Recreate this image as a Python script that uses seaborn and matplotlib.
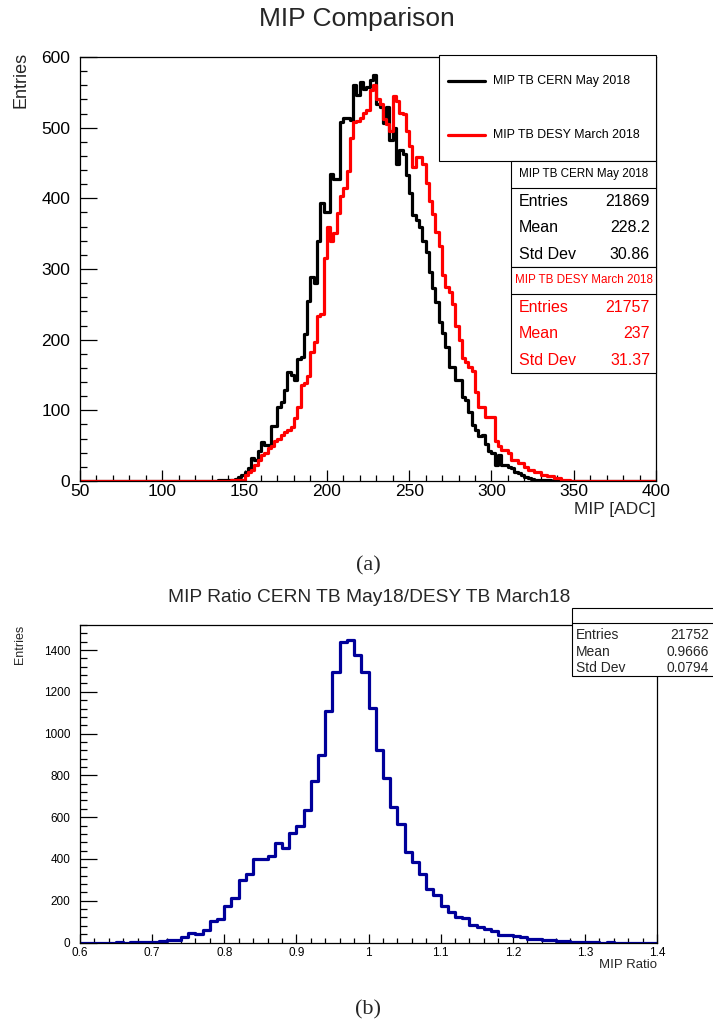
import numpy as np
import pandas as pd
import matplotlib
matplotlib.use("Agg")
import matplotlib.pyplot as plt
import seaborn as sns
from matplotlib.patches import Rectangle
from matplotlib.lines import Line2D
from matplotlib.ticker import MultipleLocator, FuncFormatter

sns.set_theme(style="ticks")
plt.rcParams["font.family"] = ["Liberation Sans", "DejaVu Sans"]

# ---------------------------------------------------------------- data
# Top panel: MIP spectra, bin width 2 ADC over 50..400; listed bins start at 130
mip_range = (50, 400)
mip_bin_width = 2
mip_list_start = 130
cern_counts = [
    0, 0, 1, 1, 1, 2, 2, 3, 6, 8,
    13, 19, 32, 30, 42, 55, 51, 51, 78, 78,
    105, 112, 129, 154, 150, 143, 173, 175, 208, 255,
    288, 280, 339, 393, 381, 381, 435, 428, 428, 508,
    514, 514, 511, 560, 546, 564, 555, 558, 567, 574,
    533, 529, 507, 529, 482, 499, 448, 468, 463, 433,
    407, 376, 370, 360, 340, 324, 296, 273, 254, 225,
    209, 190, 162, 162, 143, 143, 119, 115, 98, 79,
    72, 63, 65, 53, 42, 39, 23, 37, 23, 23,
    20, 18, 13, 11, 8, 6, 4, 3, 2, 2,
    1, 1, 1, 0, 1, 0, 0, 0, 0, 0,
]
desy_counts = [
    0, 0, 0, 0, 0, 0, 1, 1, 1, 2,
    8, 13, 16, 23, 30, 37, 39, 46, 49, 56,
    60, 65, 70, 72, 77, 89, 105, 136, 138, 148,
    183, 197, 233, 237, 316, 360, 339, 351, 379, 403,
    415, 438, 486, 508, 509, 514, 521, 525, 554, 561,
    540, 533, 512, 505, 495, 545, 538, 521, 519, 495,
    474, 445, 459, 459, 448, 422, 396, 378, 352, 333,
    291, 275, 268, 250, 220, 200, 174, 169, 162, 155,
    126, 105, 105, 91, 91, 91, 56, 49, 44, 44,
    39, 30, 30, 25, 25, 20, 16, 16, 13, 13,
    8, 8, 7, 7, 4, 4, 2, 1, 1, 0,
]
cern_label = "MIP TB CERN May 2018"
desy_label = "MIP TB DESY March 2018"
stat_names = ["Entries", "Mean", "Std Dev"]
cern_stat_values = ["21869", "228.2", "30.86"]
desy_stat_values = ["21757", "237", "31.37"]
mip_xticks = [50, 100, 150, 200, 250, 300, 350, 400]
mip_yticks = [0, 100, 200, 300, 400, 500, 600]

# Bottom panel: ratio, bin width 0.01 over 0.6..1.4
ratio_range = (0.6, 1.4)
ratio_counts = [
    0, 0, 0, 0, 0, 1, 0, 1, 1, 1,
    3, 9, 10, 11, 28, 47, 42, 58, 103, 111,
    173, 211, 297, 329, 401, 401, 413, 477, 453, 525,
    557, 636, 775, 896, 1106, 1297, 1438, 1448, 1377, 1297,
    1125, 923, 787, 647, 565, 434, 386, 326, 254, 227,
    177, 148, 121, 118, 84, 73, 64, 54, 38, 38,
    33, 25, 16, 16, 10, 10, 5, 5, 2, 2,
    1, 1, 0, 1, 0, 0, 0, 0, 0, 0,
]
ratio_stat_values = ["21752", "0.9666", "0.0794"]
ratio_xticks = [0.6, 0.7, 0.8, 0.9, 1.0, 1.1, 1.2, 1.3, 1.4]
ratio_yticks = [0, 200, 400, 600, 800, 1000, 1200, 1400]

# ---------------------------------------------------------------- figure
W, H = 713, 1026
fig = plt.figure(figsize=(W / 100, H / 100), dpi=100)
fig.patch.set_facecolor("white")


def fx(px):
    return px / W


def fy(py):
    return 1 - py / H


def box_axes(l, t, r, b):
    return fig.add_axes([fx(l), fy(b), fx(r) - fx(l), fy(t) - fy(b)])


ax1 = box_axes(80, 57, 656, 481)
ax2 = box_axes(80, 625, 657, 942.5)

# ---- top histograms
n_mip = int(round((mip_range[1] - mip_range[0]) / mip_bin_width))
mip_edges = mip_range[0] + mip_bin_width * np.arange(n_mip + 1)
mip_centers = 0.5 * (mip_edges[:-1] + mip_edges[1:])
i0 = int(round((mip_list_start - mip_range[0]) / mip_bin_width))
cern_full = np.zeros(n_mip)
cern_full[i0:i0 + len(cern_counts)] = cern_counts
desy_full = np.zeros(n_mip)
desy_full[i0:i0 + len(desy_counts)] = desy_counts
df_cern = pd.DataFrame({"mip": mip_centers, "n": cern_full})
df_desy = pd.DataFrame({"mip": mip_centers, "n": desy_full})

sns.histplot(data=df_cern, x="mip", weights="n", bins=n_mip, binrange=mip_range,
             element="step", fill=False, color="black", linewidth=2.3, ax=ax1)
sns.histplot(data=df_desy, x="mip", weights="n", bins=n_mip, binrange=mip_range,
             element="step", fill=False, color="#ff0000", linewidth=2.3, ax=ax1)

# ---- bottom histogram
n_ratio = len(ratio_counts)
ratio_edges = np.linspace(ratio_range[0], ratio_range[1], n_ratio + 1)
ratio_centers = 0.5 * (ratio_edges[:-1] + ratio_edges[1:])
df_ratio = pd.DataFrame({"ratio": ratio_centers, "n": np.array(ratio_counts, float)})
sns.histplot(data=df_ratio, x="ratio", weights="n", bins=n_ratio, binrange=ratio_range,
             element="step", fill=False, color="#00009a", linewidth=2.3, ax=ax2)

# ---- axes styling
fmt = FuncFormatter(lambda v, p: "%g" % round(v, 6))
for ax, xr, yr, xt, yt, xminor, yminor, lsz, xmaj, ymaj, xpad in (
    (ax1, mip_range, (0, 600), mip_xticks, mip_yticks, 10, 20, 12.5, 8, 12, 2.5),
    (ax2, ratio_range, (0, 1520), ratio_xticks, ratio_yticks, 0.02, 40, 8.5, 6.5, 12, 3),
):
    ax.set_xlim(*xr)
    ax.set_ylim(*yr)
    ax.set_xticks(xt)
    ax.set_yticks(yt)
    ax.xaxis.set_minor_locator(MultipleLocator(xminor))
    ax.yaxis.set_minor_locator(MultipleLocator(yminor))
    ax.xaxis.set_major_formatter(fmt)
    ax.yaxis.set_major_formatter(fmt)
    ax.tick_params(axis="both", which="both", direction="in", top=False, right=False,
                   colors="black", width=0.9, labelsize=lsz)
    ax.tick_params(axis="x", which="major", length=xmaj, pad=xpad)
    ax.tick_params(axis="x", which="minor", length=xmaj * 0.5)
    ax.tick_params(axis="y", which="major", length=ymaj, pad=7)
    ax.tick_params(axis="y", which="minor", length=ymaj * 0.42)
    for s in ax.spines.values():
        s.set_color("black")
        s.set_linewidth(0.9)
    ax.set_facecolor("white")
    ax.grid(False)

ax1.set_xlabel("MIP [ADC]", loc="right", fontsize=12.5)
ax1.xaxis.set_label_coords(1.0, -0.05)
ax1.set_ylabel("Entries", loc="top", fontsize=13)
ax1.yaxis.set_label_coords(-0.088, 1.012)

ax2.set_xlabel("MIP Ratio", loc="right", fontsize=9.5)
ax2.xaxis.set_label_coords(1.0, -0.052)
ax2.set_ylabel("Entries", loc="top", fontsize=9)
ax2.yaxis.set_label_coords(-0.093, 1.0)

# ---- titles and captions
fig.text(fx(357), fy(19), "MIP Comparison", ha="center", va="center", fontsize=19)
fig.text(fx(369), fy(598), "MIP Ratio CERN TB May18/DESY TB March18",
         ha="center", va="center", fontsize=13.8)
fig.text(fx(368), fy(566), "(a)", ha="center", va="center", fontsize=16,
         family=["Liberation Serif", "DejaVu Serif"])
fig.text(fx(368), fy(1010), "(b)", ha="center", va="center", fontsize=16,
         family=["Liberation Serif", "DejaVu Serif"])


def rect(l, t, r, b):
    fig.add_artist(Rectangle((fx(l), fy(b)), fx(r) - fx(l), fy(t) - fy(b),
                             transform=fig.transFigure, facecolor="white",
                             edgecolor="black", linewidth=0.8, zorder=5))


def hline(x0, x1, y):
    fig.add_artist(Line2D([fx(x0), fx(x1)], [fy(y), fy(y)], transform=fig.transFigure,
                          color="black", linewidth=0.8, zorder=6))


# ---- legend box
rect(439, 55, 656, 161)
for yy, col, lab in ((81, "black", cern_label), (135, "#ff0000", desy_label)):
    fig.add_artist(Line2D([fx(448), fx(485)], [fy(yy), fy(yy)], transform=fig.transFigure,
                          color=col, linewidth=2.3, zorder=6))
    fig.text(fx(493), fy(yy), lab, ha="left", va="center", fontsize=8.9, color="black",
             zorder=7)

# ---- stats boxes (top)
for top, col, lab, vals in ((161, "black", cern_label, cern_stat_values),
                            (267, "#ff0000", desy_label, desy_stat_values)):
    rect(511, top, 656, top + 106)
    hline(511, 656, top + 26.5)
    fig.text(fx(584), fy(top + 13), lab, ha="center", va="center", fontsize=8.4,
             color=col, zorder=7)
    for k, (nm, v) in enumerate(zip(stat_names, vals)):
        yy = top + 40.5 + 26.5 * k
        fig.text(fx(519), fy(yy), nm, ha="left", va="center", fontsize=11.5, color=col,
                 zorder=7)
        fig.text(fx(650), fy(yy), v, ha="right", va="center", fontsize=11.5, color=col,
                 zorder=7)

# ---- stats box (bottom)
rect(572, 608, 716, 676)
hline(572, 716, 623)
for k, (nm, v) in enumerate(zip(stat_names, ratio_stat_values)):
    yy = 635 + 16.5 * k
    fig.text(fx(576), fy(yy), nm, ha="left", va="center", fontsize=10, zorder=7)
    fig.text(fx(709), fy(yy), v, ha="right", va="center", fontsize=10, zorder=7)

fig.savefig("out.png", dpi=100, facecolor="white")
